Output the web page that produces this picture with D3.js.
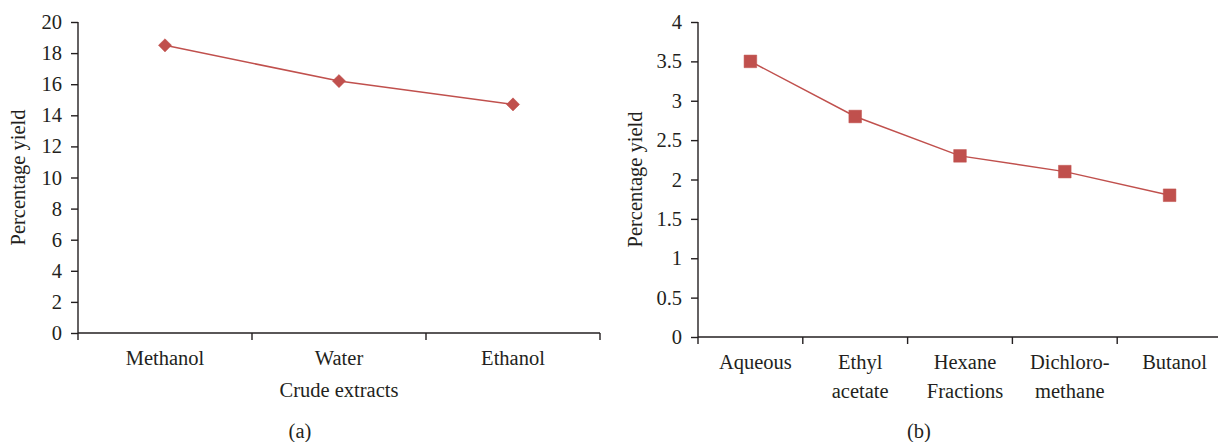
<!DOCTYPE html>
<html><head><meta charset="utf-8">
<script src="https://cdn.jsdelivr.net/npm/d3@7"></script>
<style>
body{margin:0;background:#fff;}
svg text{font-family:"Liberation Serif","Times New Roman",serif !important;fill:#231f20;}
</style></head>
<body>
<svg id="c" width="1218" height="442"></svg>
<script>
const catsA = ["Methanol","Water","Ethanol"];
const valsA = [18.5,16.2,14.7];
const ticksA = [0,2,4,6,8,10,12,14,16,18,20];
const catsB = [["Aqueous"],["Ethyl","acetate"],["Hexane","Fractions"],["Dichloro-","methane"],["Butanol"]];
const valsB = [3.5,2.8,2.3,2.1,1.8];
const ticksB = [0,0.5,1,1.5,2,2.5,3,3.5,4];

const svg = d3.select("#c");
const red = "#c0504d";
const FS = 20.5;

function panel(cfg){
  const g = svg.append("g");
  const x = d3.scaleBand().domain(cfg.cats.map((d,i)=>i)).range([cfg.x0,cfg.x1]).padding(0);
  const y = d3.scaleLinear().domain([0,cfg.ymax]).range([cfg.y0,cfg.y1]);
  const ya = g.append("g").attr("transform",`translate(${cfg.x0},0)`)
    .call(d3.axisLeft(y).tickValues(cfg.ticks).tickSize(7).tickPadding(9).tickFormat(d=>String(d)));
  ya.attr("font-size",FS).attr("font-family",null);
  ya.selectAll("path,line").attr("stroke","#231f20").attr("stroke-width",1.4);
  ya.select("path").attr("d",`M0,${cfg.y1}V${cfg.y0}`);
  ya.selectAll("text").style("font-size",FS+"px").attr("fill","#231f20");
  const xa = g.append("g").attr("transform",`translate(0,${cfg.y0})`);
  xa.append("line").attr("x1",cfg.x0).attr("x2",cfg.x1).attr("stroke","#231f20").attr("stroke-width",1.4);
  const bounds = cfg.cats.map((d,i)=>x(i)).concat([cfg.x1]);
  xa.selectAll("line.tk").data(bounds).join("line").attr("class","tk")
    .attr("x1",d=>d).attr("x2",d=>d).attr("y1",0).attr("y2",7).attr("stroke","#231f20").attr("stroke-width",1.4);
  cfg.cats.forEach((c,i)=>{
    const lines = Array.isArray(c)?c:[c];
    lines.forEach((t,j)=>{
      xa.append("text").attr("x",x(i)+x.bandwidth()/2+(cfg.labDx||0)).attr("y",32+j*29)
        .attr("text-anchor","middle").style("font-size",FS+"px").text(t);
    });
  });
  g.append("text").attr("transform",`translate(${cfg.ylx},${(cfg.y0+cfg.y1)/2}) rotate(-90)`)
    .attr("text-anchor","middle").style("font-size",FS+"px").text("Percentage yield");
  const cx = i=>x(i)+x.bandwidth()/2;
  g.append("path").datum(cfg.vals)
    .attr("d",d3.line().x((d,i)=>cx(i)).y(d=>y(d)))
    .attr("fill","none").attr("stroke",red).attr("stroke-width",1.5);
  g.selectAll("path.m").data(cfg.vals).join("path").attr("class","m")
    .attr("transform",(d,i)=>`translate(${cx(i)},${y(d)})`)
    .attr("d",d3.symbol().type(cfg.sym).size(cfg.symSize))
    .attr("fill",red).attr("stroke",red).attr("stroke-width",0.5);
  return {g,x,y};
}

panel({cats:catsA,vals:valsA,ticks:ticksA,ymax:20,x0:78,x1:600,y0:333,y1:22,ylx:25,
  sym:d3.symbolDiamond2, symSize:110});
panel({cats:catsB,vals:valsB,ticks:ticksB,ymax:4,x0:698,x1:1222,y0:337,y1:22,ylx:642,
  sym:d3.symbolSquare, symSize:160, labDx:5});

svg.append("text").attr("x",339).attr("y",397).attr("text-anchor","middle").style("font-size",FS+"px").text("Crude extracts");
svg.append("text").attr("x",300).attr("y",438).attr("text-anchor","middle").style("font-size",FS+"px").text("(a)");
svg.append("text").attr("x",919).attr("y",438).attr("text-anchor","middle").style("font-size",FS+"px").text("(b)");
</script>
</body></html>
